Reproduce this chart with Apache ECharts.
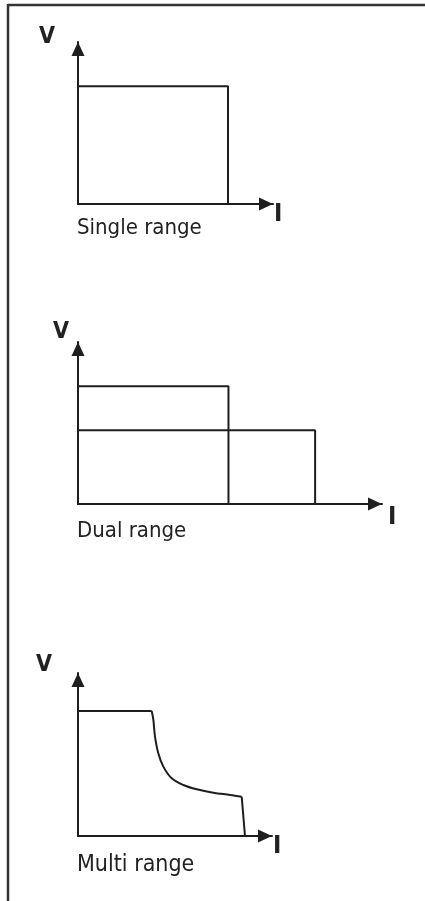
<!DOCTYPE html>
<html><head><meta charset="utf-8">
<script src="https://cdn.jsdelivr.net/npm/echarts@6/dist/echarts.min.js"></script>
<style>html,body{margin:0;padding:0;background:#fff}#c{width:425px;height:901px}</style>
</head><body><div id="c"></div><script>
// ---- data ----
const panelTitles = ['Single range', 'Dual range', 'Multi range'];
const voltageName = 'V';
const currentName = 'I';
const singleRangeI = [0, 10, 10];
const singleRangeV = [8, 8, 0];
const dualRangeHighI = [0, 9.9, 9.9];
const dualRangeHighV = [8, 8, 0];
const dualRangeLowI = [0, 15.6, 15.6];
const dualRangeLowV = [5, 5, 0];
const multiRangeFlatI = [0, 4.94];
const multiRangeFlatV = [8.43, 8.43];
const multiRangeCurveI = [4.94, 5.05, 5.16, 5.38, 5.72, 6.28, 7.06, 7.96, 9.07, 10.19, 10.97];
const multiRangeCurveV = [8.43, 7.83, 6.70, 5.58, 4.68, 3.89, 3.44, 3.15, 2.92, 2.77, 2.65];
const multiRangeDropI = [10.97, 11.19];
const multiRangeDropV = [2.65, 0];
const axisMaxI = [13, 20, 13];
const axisMaxV = [11, 11, 11];

// ---- chart ----
const FONT = '"Liberation Sans Narrow", "DejaVu Sans Condensed", "Roboto Condensed", sans-serif';
const INK = '#1e1e1e';
const zip = (xs, ys) => xs.map((x, i) => [x, ys[i]]);

const grids = [
  { left: 78, top: 42, width: 195, height: 162 },
  { left: 78, top: 342, width: 304, height: 162 },
  { left: 78, top: 673, width: 194, height: 163 }
];
const axisLine = {
  show: true,
  symbol: ['none', 'triangle'],
  symbolSize: [13, 14],
  symbolOffset: [0, -7],
  lineStyle: { color: INK, width: 2 }
};
const axisBase = {
  type: 'value', min: 0,
  axisLine: axisLine,
  axisTick: { show: false },
  axisLabel: { show: false },
  splitLine: { show: false }
};
const xAxes = axisMaxI.map((m, i) => Object.assign({}, axisBase, { gridIndex: i, max: m }));
const yAxes = axisMaxV.map((m, i) => Object.assign({}, axisBase, { gridIndex: i, max: m }));

const lineSeries = (data, idx, smooth) => ({
  type: 'line', xAxisIndex: idx, yAxisIndex: idx, data: data,
  showSymbol: false, symbol: 'none', silent: true, animation: false,
  smooth: smooth || false,
  lineStyle: { color: INK, width: 2 }
});

const txt = (text, x, y, size, bold) => ({
  type: 'text', x: x, y: y, silent: true,
  style: { text: text, fill: '#222', font: (bold ? 'bold ' : '') + size + 'px ' + FONT, align: 'left', verticalAlign: 'top' }
});

const chart = echarts.init(document.getElementById('c'), null, { renderer: 'canvas' });
chart.setOption({
  backgroundColor: '#fff',
  animation: false,
  grid: grids,
  xAxis: xAxes,
  yAxis: yAxes,
  series: [
    lineSeries(zip(singleRangeI, singleRangeV), 0),
    lineSeries(zip(dualRangeHighI, dualRangeHighV), 1),
    lineSeries(zip(dualRangeLowI, dualRangeLowV), 1),
    lineSeries(zip(multiRangeFlatI, multiRangeFlatV), 2),
    lineSeries(zip(multiRangeCurveI, multiRangeCurveV), 2, 0.35),
    lineSeries(zip(multiRangeDropI, multiRangeDropV), 2)
  ],
  graphic: [
    { type: 'line', silent: true, shape: { x1: 8, y1: 5, x2: 425, y2: 5 }, style: { stroke: '#333', lineWidth: 2.5 } },
    { type: 'line', silent: true, shape: { x1: 8, y1: 4, x2: 8, y2: 901 }, style: { stroke: '#333', lineWidth: 2.5 } },
    txt(voltageName, 39, 26, 23, true),
    txt(voltageName, 53, 321, 23, true),
    txt(voltageName, 36, 654, 23, true),
    txt(currentName, 274, 202, 25, true),
    txt(currentName, 388, 505, 25, true),
    txt(currentName, 273, 834, 25, true),
    txt(panelTitles[0], 77, 217, 22, false),
    txt(panelTitles[1], 77, 520, 22, false),
    txt(panelTitles[2], 77, 854, 23, false)
  ]
});
</script></body></html>
